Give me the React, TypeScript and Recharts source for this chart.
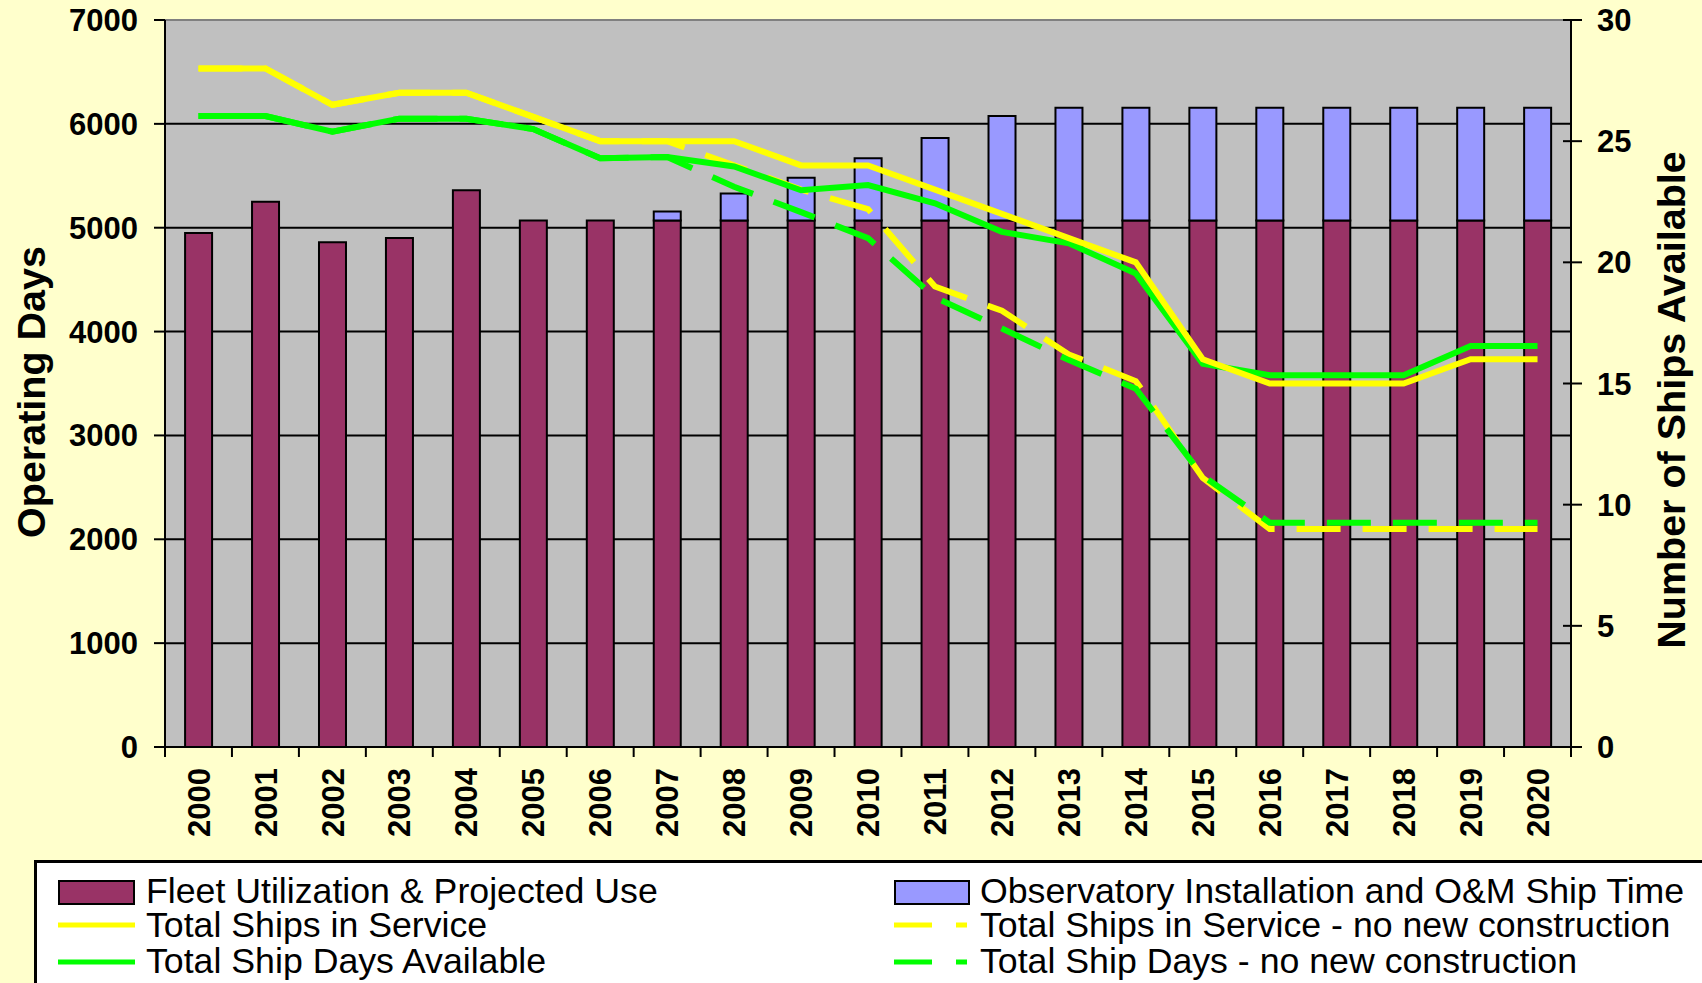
import { ComposedChart, Bar, Line, XAxis, YAxis, CartesianGrid, ReferenceLine } from 'recharts';

// categories
const years = [
  '2000', '2001', '2002', '2003', '2004', '2005', '2006', '2007', '2008', '2009', '2010',
  '2011', '2012', '2013', '2014', '2015', '2016', '2017', '2018', '2019', '2020',
];

// operating days (left axis)
const fleetUse = [
  4950, 5250, 4860, 4900, 5360, 5070, 5070, 5070, 5070, 5070, 5070,
  5070, 5070, 5070, 5070, 5070, 5070, 5070, 5070, 5070, 5070,
];
const observatoryTime = [
  0, 0, 0, 0, 0, 0, 0, 85, 260, 410, 600,
  795, 1005, 1085, 1085, 1085, 1085, 1085, 1085, 1085, 1085,
];
const shipDaysAvailable = [
  6075, 6075, 5925, 6050, 6050, 5950, 5670, 5680, 5590, 5360, 5410,
  5235, 4960, 4850, 4560, 3690, 3580, 3580, 3580, 3860, 3860,
];
const shipDaysNoNew = [
  6075, 6075, 5925, 6050, 6050, 5950, 5670, 5680, 5395, 5150, 4900,
  4330, 4030, 3725, 3450, 2610, 2160, 2160, 2160, 2160, 2160,
];

// number of ships (right axis)
const shipsInService = [
  28, 28, 26.5, 27, 27, 26, 25, 25, 25, 24, 24,
  23, 22, 21, 20, 16, 15, 15, 15, 16, 16,
];
const shipsNoNew = [
  28, 28, 26.5, 27, 27, 26, 25, 25, 24, 23, 22.2,
  19, 18, 16.2, 15.1, 11.1, 9, 9, 9, 9, 9,
];

// tick labels
const daysTicks = [0, 1000, 2000, 3000, 4000, 5000, 6000, 7000];
const shipTicks = [0, 5, 10, 15, 20, 25, 30];

const CHART_W = 1702;
const CHART_H = 983;
const LEFT_W = 165;
const RIGHT_W = 131;
const XAXIS_H = 236;
const BAND = (CHART_W - LEFT_W - RIGHT_W) / years.length;
const FONT = '"Liberation Sans", Arial, Helvetica, sans-serif';

const data = years.map((year, i) => ({
  year,
  fleet: fleetUse[i],
  obs: observatoryTime[i],
  days: shipDaysAvailable[i],
  daysNo: shipDaysNoNew[i],
  ships: shipsInService[i],
  shipsNo: shipsNoNew[i],
}));

const gridValues = daysTicks.filter((v) => v > 0 && v < 7000);

function YearTick(props: any) {
  const { x, y, payload, index } = props;
  const axisY = y - 10 - 11;
  const left = x - BAND / 2;
  const right = x + BAND / 2;
  return (
    <g>
      <line x1={left} x2={left} y1={axisY} y2={axisY + 10} stroke="#000" strokeWidth={2} />
      {index === years.length - 1 && (
        <line x1={right} x2={right} y1={axisY} y2={axisY + 10} stroke="#000" strokeWidth={2} />
      )}
      <text
        x={x}
        y={axisY + 21}
        dy="0.36em"
        textAnchor="end"
        transform={`rotate(-90 ${x} ${axisY + 21})`}
        fontSize={31}
        fontWeight="bold"
        fill="#000"
      >
        {payload.value}
      </text>
    </g>
  );
}

function ShipTick(props: any) {
  const { x, y, payload } = props;
  const axisX = x - 11 - 15;
  return (
    <g>
      <line x1={axisX - 8} x2={axisX + 11} y1={y} y2={y} stroke="#000" strokeWidth={2} />
      <text x={x} y={y} dy="0.36em" textAnchor="start" fontSize={31} fontWeight="bold" fill="#000">
        {payload.value}
      </text>
    </g>
  );
}

function Overlay() {
  const txt = { fontSize: 35.7, fill: '#000' };
  return (
    <svg
      width={CHART_W}
      height={CHART_H}
      style={{ position: 'absolute', left: 0, top: 0, pointerEvents: 'none' }}
    >
      <text
        x={31}
        y={392}
        transform="rotate(-90 31 392)"
        textAnchor="middle"
        dominantBaseline="central"
        fontSize={39.5}
        fontWeight="bold"
        fill="#000"
      >
        Operating Days
      </text>
      <text
        x={1671}
        y={400}
        transform="rotate(-90 1671 400)"
        textAnchor="middle"
        dominantBaseline="central"
        fontSize={39.5}
        fontWeight="bold"
        fill="#000"
      >
        Number of Ships Available
      </text>

      <rect x={35.5} y={861.5} width={1700} height={200} fill="#fff" stroke="#000" strokeWidth={3} />

      <rect x={59} y={881} width={75} height={23} fill="#993366" stroke="#000" strokeWidth={2} />
      <text x={146} y={903} {...txt}>Fleet Utilization &amp; Projected Use</text>
      <line x1={58} x2={135} y1={925} y2={925} stroke="#FFFF00" strokeWidth={5} />
      <text x={146} y={937} {...txt}>Total Ships in Service</text>
      <line x1={58} x2={135} y1={962} y2={962} stroke="#00FF00" strokeWidth={5} />
      <text x={146} y={973} {...txt}>Total Ship Days Available</text>

      <rect x={895} y={881} width={74} height={23} fill="#9999FF" stroke="#000" strokeWidth={2} />
      <text x={980} y={903} {...txt}>Observatory Installation and O&amp;M Ship Time</text>
      <line x1={894} x2={967} y1={925} y2={925} stroke="#FFFF00" strokeWidth={5} strokeDasharray="38 24" />
      <text x={980} y={937} {...txt}>Total Ships in Service - no new construction</text>
      <line x1={894} x2={967} y1={962} y2={962} stroke="#00FF00" strokeWidth={5} strokeDasharray="38 24" />
      <text x={980} y={973} {...txt}>Total Ship Days - no new construction</text>
    </svg>
  );
}

export default function App() {
  return (
    <div
      style={{
        position: 'fixed',
        left: 0,
        top: 0,
        width: CHART_W,
        height: CHART_H,
        overflow: 'hidden',
        background: '#FFFFCC',
        fontFamily: FONT,
      }}
    >
      <ComposedChart
        width={CHART_W}
        height={CHART_H}
        data={data}
        margin={{ top: 20, right: 0, bottom: 0, left: 0 }}
        barCategoryGap="30%"
      >
        <CartesianGrid
          yAxisId="left"
          vertical={false}
          horizontalValues={gridValues}
          stroke="#000"
          strokeWidth={2}
          fill="#C0C0C0"
          fillOpacity={1}
        />
        <XAxis
          dataKey="year"
          height={XAXIS_H}
          interval={0}
          tickSize={10}
          tickMargin={11}
          tickLine={false}
          axisLine={{ stroke: '#000', strokeWidth: 2 }}
          tick={<YearTick />}
        />
        <YAxis
          yAxisId="left"
          width={LEFT_W}
          domain={[0, 7000]}
          ticks={daysTicks}
          tickSize={11}
          tickMargin={16}
          tickLine={{ stroke: '#000', strokeWidth: 2 }}
          axisLine={{ stroke: '#000', strokeWidth: 2 }}
          tick={{ fill: '#000', fontSize: 31, fontWeight: 'bold' }}
        />
        <YAxis
          yAxisId="right"
          orientation="right"
          width={RIGHT_W}
          domain={[0, 30]}
          ticks={shipTicks}
          tickSize={11}
          tickMargin={15}
          tickLine={false}
          axisLine={{ stroke: '#000', strokeWidth: 2 }}
          tick={<ShipTick />}
        />
        <ReferenceLine yAxisId="left" y={7000} stroke="#808080" strokeWidth={2} />
        <Bar yAxisId="left" dataKey="fleet" stackId="s" fill="#993366" stroke="#000" strokeWidth={2} isAnimationActive={false} />
        <Bar yAxisId="left" dataKey="obs" stackId="s" fill="#9999FF" stroke="#000" strokeWidth={2} isAnimationActive={false} />
        <Line yAxisId="right" dataKey="shipsNo" stroke="#FFFF00" strokeWidth={6} strokeDasharray="44 22" dot={false} activeDot={false} isAnimationActive={false} />
        <Line yAxisId="left" dataKey="daysNo" stroke="#00FF00" strokeWidth={6} strokeDasharray="44 22" dot={false} activeDot={false} isAnimationActive={false} />
        <Line yAxisId="left" dataKey="days" stroke="#00FF00" strokeWidth={6} dot={false} activeDot={false} isAnimationActive={false} />
        <Line yAxisId="right" dataKey="ships" stroke="#FFFF00" strokeWidth={6} dot={false} activeDot={false} isAnimationActive={false} />
      </ComposedChart>
      <Overlay />
    </div>
  );
}
